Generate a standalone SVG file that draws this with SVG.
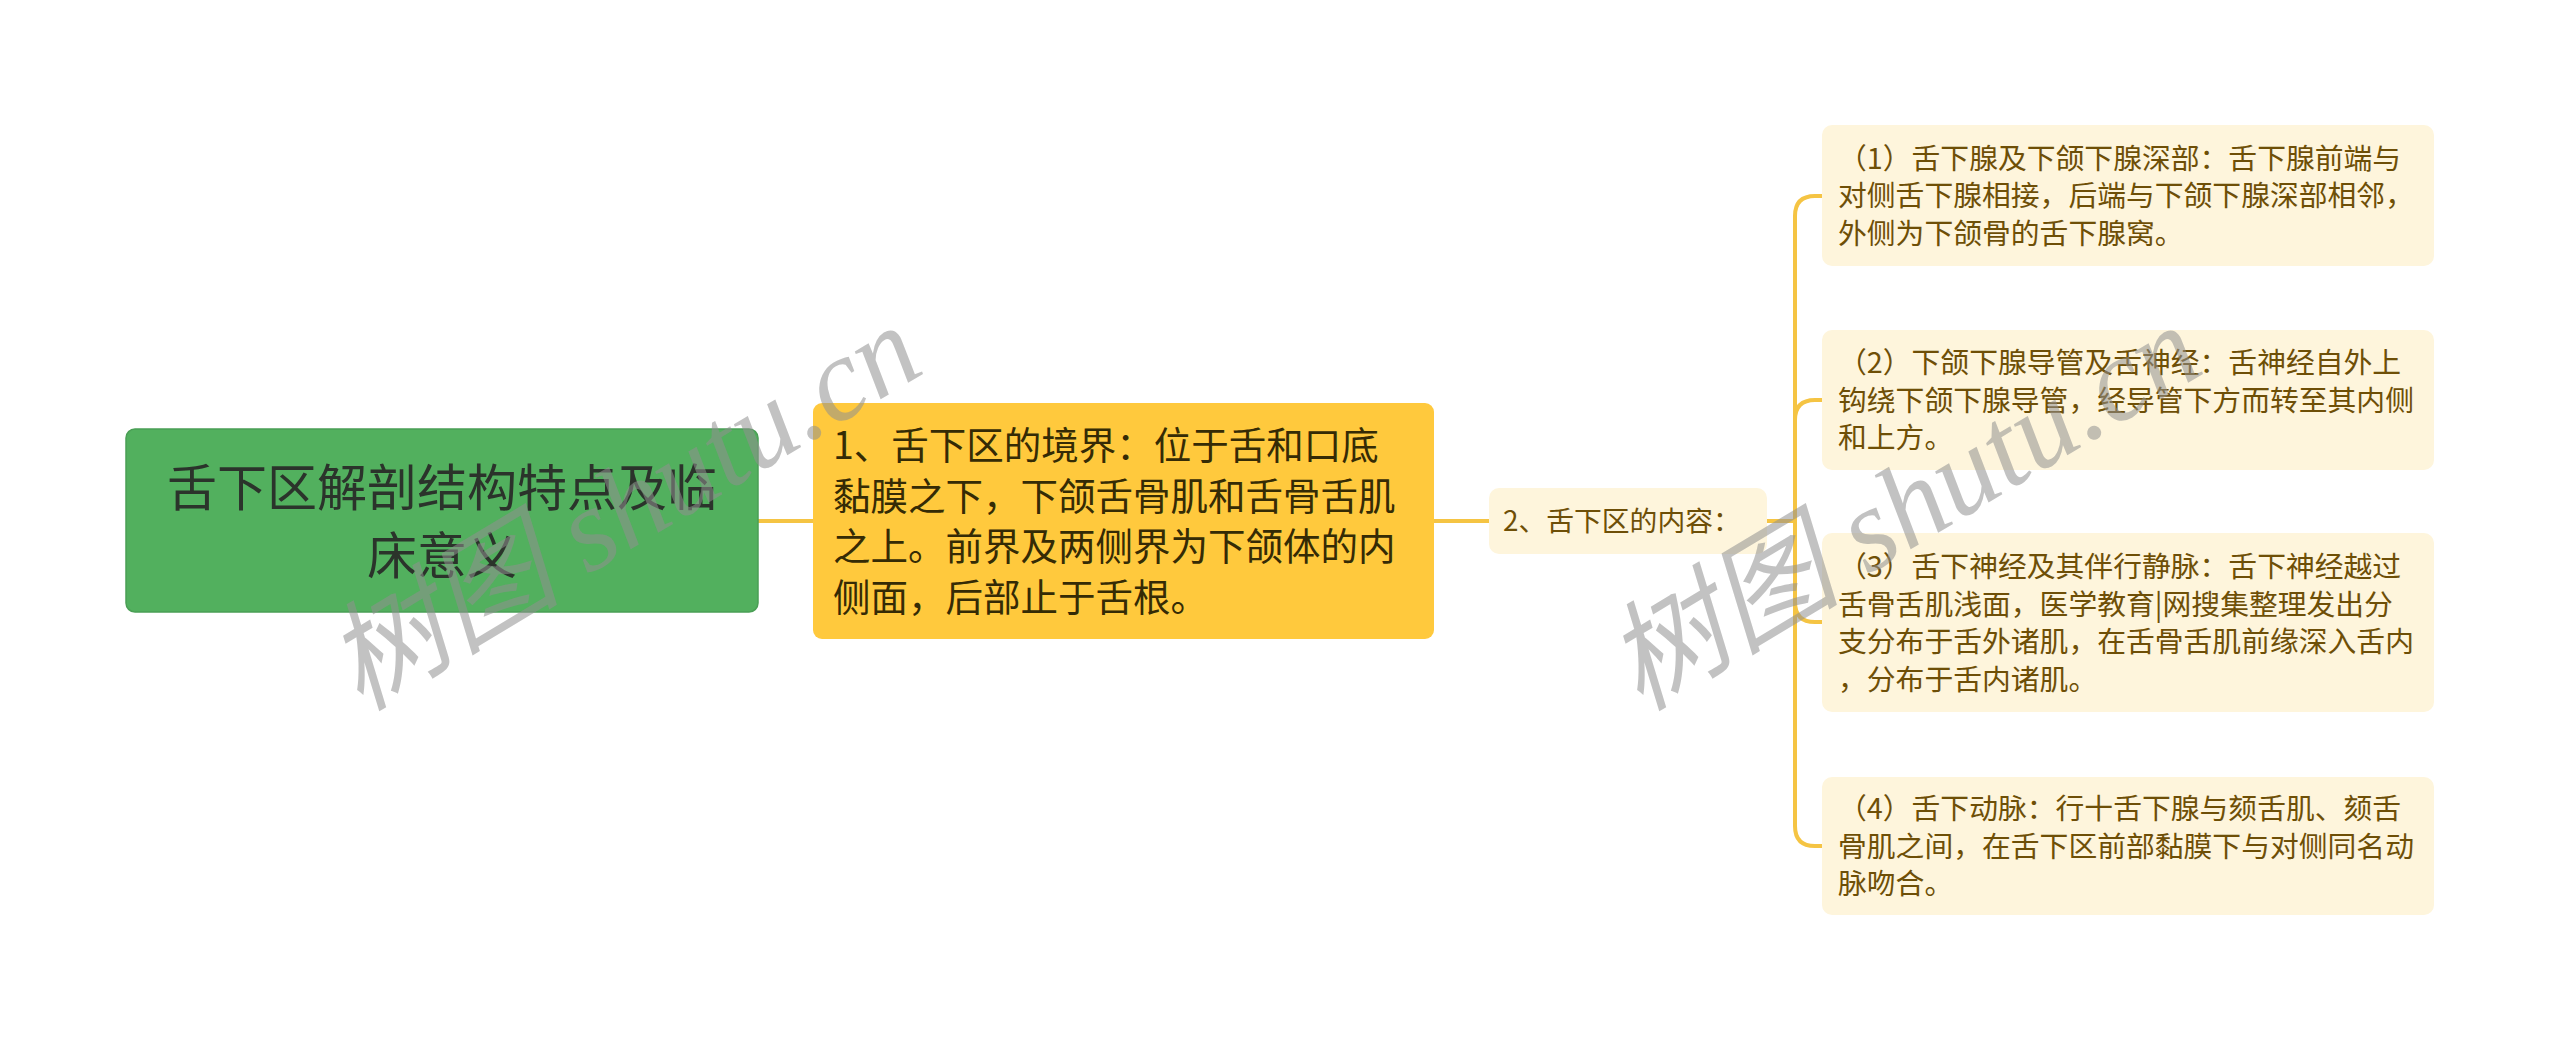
<svg xmlns="http://www.w3.org/2000/svg" width="2560" height="1042" viewBox="0 0 2560 1042">
<style>
.cn{font-family:"Noto Sans CJK SC","Noto Sans",sans-serif}
.conn{fill:none;stroke:#F5C443;stroke-width:4;stroke-linecap:round}
.leaf{fill:#FEF5DC}
.leaft{font-size:28.8px;fill:#6E4F07}
.wm{font-family:"Liberation Serif","Noto Sans CJK SC",serif;font-style:italic;font-size:118px;fill:#8f8f8f;fill-opacity:0.55}
</style>
<rect width="2560" height="1042" fill="#ffffff"/>
<g id="connectors">
<path class="conn" d="M758 521H813"/>
<path class="conn" d="M1434 521H1489"/>
<path class="conn" d="M1767 521H1795"/>
<path class="conn" d="M1795 521V216Q1795 196 1815 196H1822"/>
<path class="conn" d="M1795 521V420Q1795 400 1815 400H1822"/>
<path class="conn" d="M1795 521V602Q1795 622 1815 622H1822"/>
<path class="conn" d="M1795 521V826Q1795 846 1815 846H1822"/>
</g>
<g id="root">
<rect x="126" y="429" width="632" height="183" rx="9" fill="#52B05E" stroke="#4A9F55" stroke-width="1.5"/>
<text class="cn" x="442" y="506" text-anchor="middle" font-size="50" fill="#2B332B">舌下区解剖结构特点及临</text>
<text class="cn" x="442" y="574" text-anchor="middle" font-size="50" fill="#2B332B">床意义</text>
</g>
<g id="node1">
<rect x="813" y="403" width="621" height="236" rx="9" fill="#FFC93D"/>
<g class="cn" font-size="37.5" fill="#352B05">
<text x="833" y="459">1、舌下区的境界：位于舌和口底</text>
<text x="833" y="510">黏膜之下，下颌舌骨肌和舌骨舌肌</text>
<text x="833" y="560">之上。前界及两侧界为下颌体的内</text>
<text x="833" y="611">侧面，后部止于舌根。</text>
</g>
</g>
<g id="node2">
<rect x="1489" y="488" width="278" height="66" rx="10" class="leaf"/>
<text class="cn" x="1503" y="531" font-size="27.8" fill="#6E4F07">2、舌下区的内容：</text>
</g>
<g id="c1">
<rect x="1822" y="125" width="612" height="141" rx="10" class="leaf"/>
<g class="cn leaft">
<text x="1838" y="168.5">（1）舌下腺及下颌下腺深部：舌下腺前端与</text>
<text x="1838" y="206">对侧舌下腺相接，后端与下颌下腺深部相邻，</text>
<text x="1838" y="243.5">外侧为下颌骨的舌下腺窝。</text>
</g>
</g>
<g id="c2">
<rect x="1822" y="330" width="612" height="140" rx="10" class="leaf"/>
<g class="cn leaft">
<text x="1838" y="373">（2）下颌下腺导管及舌神经：舌神经自外上</text>
<text x="1838" y="410.5">钩绕下颌下腺导管，经导管下方而转至其内侧</text>
<text x="1838" y="448">和上方。</text>
</g>
</g>
<g id="c3">
<rect x="1822" y="533" width="612" height="179" rx="10" class="leaf"/>
<g class="cn leaft">
<text x="1838" y="577">（3）舌下神经及其伴行静脉：舌下神经越过</text>
<text x="1838" y="614.5">舌骨舌肌浅面，医学教育|网搜集整理发出分</text>
<text x="1838" y="652">支分布于舌外诸肌，在舌骨舌肌前缘深入舌内</text>
<text x="1838" y="689.5">，分布于舌内诸肌。</text>
</g>
</g>
<g id="c4">
<rect x="1822" y="777" width="612" height="138" rx="10" class="leaf"/>
<g class="cn leaft">
<text x="1838" y="819">（4）舌下动脉：行十舌下腺与颏舌肌、颏舌</text>
<text x="1838" y="856.5">骨肌之间，在舌下区前部黏膜下与对侧同名动</text>
<text x="1838" y="894">脉吻合。</text>
</g>
</g>
<g id="watermarks">
<text class="wm" transform="translate(360 712) rotate(-31)">树图 shutu.cn</text>
<text class="wm" transform="translate(1640 712) rotate(-31)">树图 shutu.cn</text>
</g>
</svg>
